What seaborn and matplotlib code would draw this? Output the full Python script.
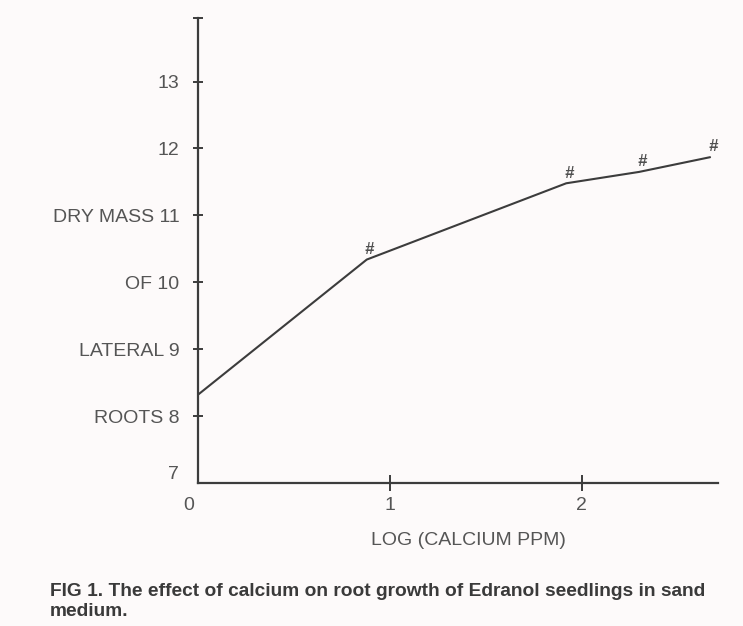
import matplotlib
matplotlib.use("Agg")
import matplotlib.pyplot as plt
import matplotlib.transforms as mtransforms
import numpy as np
import pandas as pd
import seaborn as sns

# values
log_calcium = [0.0, 0.88, 1.92, 2.30, 2.67]
dry_mass = [8.32, 10.34, 11.48, 11.65, 11.87]
marked = [False, True, True, True, True]

y_ticks = [7, 8, 9, 10, 11, 12, 13]
y_labels = ["7", "ROOTS 8", "LATERAL 9", "OF 10", "DRY MASS 11", "12", "13"]
x_ticks = [0, 1, 2]
x_labels = ["0", "1", "2"]

df = pd.DataFrame({"x": log_calcium, "y": dry_mass})

sns.set_theme(style="ticks")
plt.rcParams["font.family"] = ["Liberation Sans", "DejaVu Sans"]

ink = "#3c3c3c"
txt = "#555555"
bg = "#fdfafa"

fig = plt.figure(figsize=(7.43, 6.26), dpi=100, facecolor=bg)
ax = fig.add_axes([0.2665, 0.2284, 0.6995, 0.7428])
ax.set_facecolor(bg)

sns.lineplot(data=df, x="x", y="y", color=ink, lw=1.5, ax=ax, legend=False)

for xv, yv, m in zip(log_calcium, dry_mass, marked):
    if m:
        ax.annotate("#", (xv, yv), xytext=(2, 2), textcoords="offset points",
                    ha="center", va="bottom", fontsize=12, color="#505050",
                    style="italic", fontweight="bold")

ax.set_xlim(0, 2.71)
ax.set_ylim(7.03, 13.95)

for s in ["top", "right"]:
    ax.spines[s].set_visible(False)
for s in ["left", "bottom"]:
    ax.spines[s].set_color(ink)
    ax.spines[s].set_linewidth(1.6)

ax.set_yticks(y_ticks)
ax.set_yticklabels(y_labels, fontsize=14, color=txt)
ax.set_yticks([13.95], minor=True)
ax.set_xticks(x_ticks)
ax.set_xticklabels(x_labels, fontsize=14, color=txt)
ax.tick_params(axis="y", which="both", direction="inout", length=7, width=1.4, color=ink, pad=10)
ax.tick_params(axis="x", direction="inout", length=12, width=1.4, color=ink, pad=4)

# no tick mark at 7 and at 0, matching the original
yt = ax.yaxis.get_major_ticks()
xt = ax.xaxis.get_major_ticks()
yt[0].tick1line.set_visible(False)
xt[0].tick1line.set_visible(False)
yt[0].label1.set_y(7.1)
yt[0].label1.set_va("bottom")
xt[0].label1.set_transform(xt[0].label1.get_transform() +
                           mtransforms.ScaledTranslation(-0.09, 0, fig.dpi_scale_trans))

ax.set_xlabel("LOG (CALCIUM PPM)", fontsize=14, color=txt)
ax.xaxis.set_label_coords(0.52, -0.105)
ax.set_ylabel("")

fig.text(0.067, 1 - 592 / 626, "FIG 1. The effect of calcium on root growth of Edranol seedlings in sand",
         fontsize=13.8, fontweight="bold", color="#3a3a3a", ha="left", va="center")
fig.text(0.067, 1 - 611 / 626, "medium.",
         fontsize=13.8, fontweight="bold", color="#3a3a3a", ha="left", va="center")

fig.savefig("out.png", dpi=100, facecolor=bg)
